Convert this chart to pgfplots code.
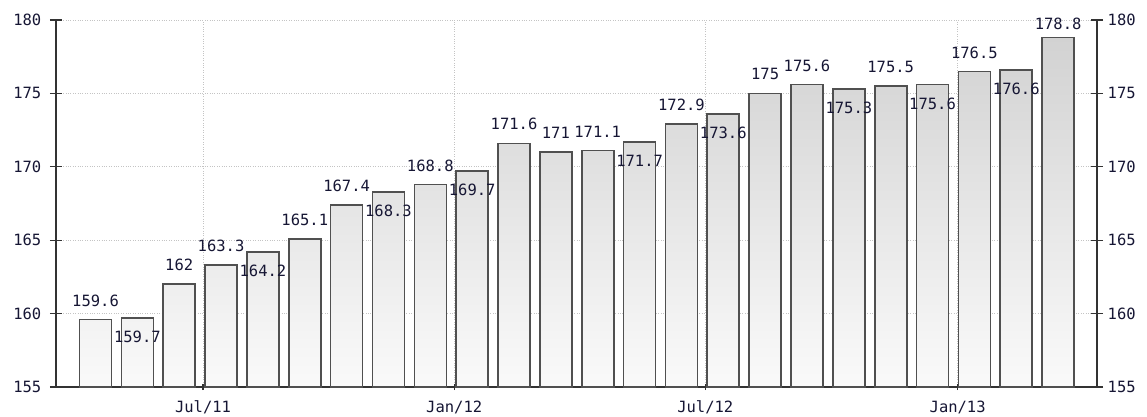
\documentclass[border=0pt]{standalone}
\usepackage{fontspec}
\setmainfont{DejaVu Sans Mono}
\usepackage{pgfplots}
\usepackage{pgfplotstable}
\pgfplotsset{compat=1.18}
\definecolor{axcol}{HTML}{333333}
\definecolor{txtcol}{HTML}{161634}
\definecolor{gridcol}{HTML}{C4C4C4}
\definecolor{barline}{HTML}{505050}
\pgfplotstableread{
x y off
0 159.6 19
1 159.7 -19
2 162 19
3 163.3 19
4 164.2 -19
5 165.1 19
6 167.4 19
7 168.3 -19
8 168.8 19
9 169.7 -19
10 171.6 19
11 171 19
12 171.1 19
13 171.7 -19
14 172.9 19
15 173.6 -19
16 175 19
17 175.6 19
18 175.3 -19
19 175.5 19
20 175.6 -19
21 176.5 19
22 176.6 -19
23 178.8 14
}\datatable
\begin{document}
\begin{tikzpicture}
\useasboundingbox (-56pt,-29pt) rectangle (1091pt,387pt);
\pgfplotsset{
  common/.style={
    scale only axis, width=1041pt, height=367pt,
    xmin=-0.944, xmax=23.93, ymin=155, ymax=180,
    ytick={155,160,165,170,175,180},
    /pgf/number format/assume math mode=true,
    tick label style={font=\fontsize{15.5}{17}\selectfont, text=txtcol},
    tick align=outside,
    axis line style={draw=axcol, line width=1.3pt},
    every tick/.style={draw=axcol, line width=1.3pt},
    ytick style={/pgfplots/major tick length=12pt},
    xtick style={/pgfplots/major tick length=6pt},
  }
}
\begin{axis}[common,
  axis x line=bottom, axis y line=left,
  every outer x axis line/.append style={-},
  every outer y axis line/.append style={-},
  xtick={2.57,8.57,14.57,20.6},
  xticklabels={Jul/11,Jan/12,Jul/12,Jan/13},
  xmajorgrids, ymajorgrids,
  major grid style={dotted, draw=gridcol, line width=1pt},
  yticklabel style={xshift=-9pt},
  xticklabel style={yshift=-8pt},
]
\addplot[ybar, bar width=32pt, draw=barline, line width=1.6pt,
  top color={rgb,255:red,210;green,210;blue,210}, bottom color={rgb,255:red,250;green,250;blue,250},
  visualization depends on={\thisrow{off} \as \lo},
  nodes near coords={\pgfmathprintnumber[assume math mode=true]{\pgfplotspointmeta}},
  nodes near coords align=center,
  every node near coord/.append style={anchor=center, yshift=\lo*1pt, font=\fontsize{15.5}{17}\selectfont, text=txtcol, inner sep=0pt},
] table[x=x, y=y] {\datatable};
\end{axis}
\begin{axis}[common,
  axis x line=none, axis y line=right,
  every outer y axis line/.append style={-},
  yticklabel style={xshift=5pt},
]
\addplot[draw=none] coordinates {(0,160)};
\end{axis}
\end{tikzpicture}
\end{document}
